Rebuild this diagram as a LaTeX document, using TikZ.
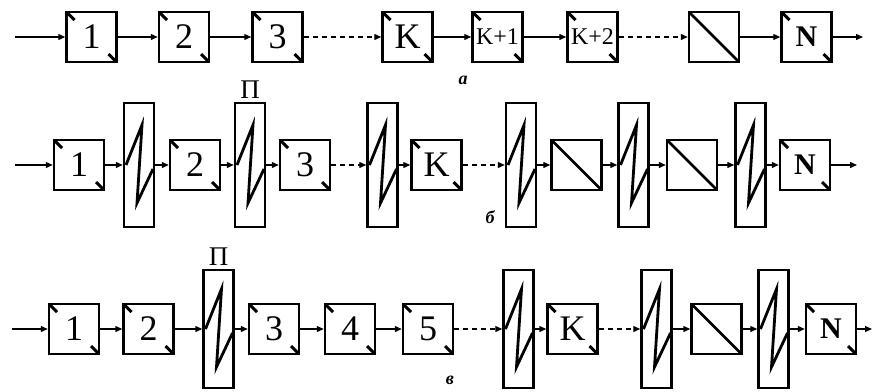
\documentclass[tikz,border=0pt]{standalone}
\usepackage{fontspec}
\setmainfont{Liberation Serif}
\usetikzlibrary{arrows.meta,positioning}

\begin{document}
\begin{tikzpicture}[x=1pt,y=-1pt,
    >={Triangle[length=7pt,width=6pt]},
    conn/.style={line width=1.3pt},
    gap/.style={conn,dash pattern=on 5pt off 4pt},
    blk/.style={draw,line width=2.5pt,minimum width=50pt,minimum height=50pt,
        inner sep=0pt,font=\fontsize{36}{36}\selectfont,
        path picture={
            \draw[line width=3pt] (path picture bounding box.north west) -- ++(8pt,-8pt);
            \draw[line width=3pt] (path picture bounding box.south east) -- ++(-8pt,8pt);
        }},
    diag/.style={draw,line width=2.5pt,minimum width=50pt,minimum height=50pt,
        inner sep=0pt,
        path picture={
            \draw[line width=2.5pt] (path picture bounding box.north west) -- (path picture bounding box.south east);
        }},
    filt/.style={draw,line width=2.5pt,minimum width=30pt,minimum height=#1,
        inner sep=0pt,
        path picture={
            \draw[line width=2.8pt]
                ([shift={(-13pt,0pt)}]path picture bounding box.center)
                -- ++(16pt,40pt) -- ++(-5pt,-78pt) -- ++(16pt,34pt);
        }},
    filt/.default=124pt,
    lbl/.style={font=\fontsize{18}{18}\selectfont\bfseries\itshape}
    ]

            \useasboundingbox (0,0) rectangle (872,391);

            % first chain: one after another
            \coordinate (ain) at (15,37);
            \node[blk] (a1) at (91.5,37) {1};
            \node[blk] (a2) at (184,37) {2};
            \node[blk] (a3) at (277.5,37) {3};
            \node[blk] (aK) at (407.5,37) {K};
            \node[blk,font=\fontsize{24}{24}\selectfont] (aK1) at (497.5,37) {K+1};
            \node[blk,font=\fontsize{24}{24}\selectfont] (aK2) at (592.5,37) {K+2};
            \node[diag] (aD) at (714,37) {};
            \node[blk,font=\fontsize{30}{30}\selectfont\bfseries] (aN) at (806.5,37) {N};
            \coordinate (aout) at (863,37);

            \draw[conn,->] (ain) -- (a1);
            \draw[conn,->] (a1) -- (a2);
            \draw[conn,->] (a2) -- (a3);
            \draw[gap,->] (a3) -- (aK);
            \draw[conn,->] (aK) -- (aK1);
            \draw[conn,->] (aK1) -- (aK2);
            \draw[gap,->] (aK2) -- (aD);
            \draw[conn,->] (aD) -- (aN);
            \draw[conn,->] (aN) -- (aout);

            \node[lbl] (la) at (463,80) {а};

            % second chain: a filter after every block
            \coordinate (bin) at (15,165);
            \node[blk] (b1) at (79,165) {1};
            \node[filt] (bf1) at (139,165) {};
            \node[blk] (b2) at (195,165) {2};
            \node[filt] (bf2) at (250,165) {};
            \node[blk] (b3) at (305,165) {3};
            \node[filt] (bf3) at (382.5,165) {};
            \node[blk] (bK) at (436.5,165) {K};
            \node[filt] (bf4) at (521,165) {};
            \node[diag] (bD1) at (576.5,165) {};
            \node[filt] (bf5) at (633.5,165) {};
            \node[diag] (bD2) at (692,165) {};
            \node[filt] (bf6) at (750.5,165) {};
            \node[blk,font=\fontsize{30}{30}\selectfont\bfseries] (bN) at (805,165) {N};
            \coordinate (bout) at (857,165);

            \draw[conn,->] (bin) -- (b1);
            \draw[conn,->] (b1) -- (bf1);
            \draw[conn,->] (bf1) -- (b2);
            \draw[conn,->] (b2) -- (bf2);
            \draw[conn,->] (bf2) -- (b3);
            \draw[gap,->] (b3) -- (bf3);
            \draw[conn,->] (bf3) -- (bK);
            \draw[gap,->] (bK) -- (bf4);
            \draw[conn,->] (bf4) -- (bD1);
            \draw[conn,->] (bD1) -- (bf5);
            \draw[conn,->] (bf5) -- (bD2);
            \draw[conn,->] (bD2) -- (bf6);
            \draw[conn,->] (bf6) -- (bN);
            \draw[conn,->] (bN) -- (bout);

            \node[font=\fontsize{27}{27}\selectfont,above=0pt of bf2] (bP) {П};
            \node[lbl] (lb) at (490,217) {б};

            % third chain: filters only in some places
            \coordinate (cin) at (12,329);
            \node[blk] (c1) at (74,329) {1};
            \node[blk] (c2) at (148.5,329) {2};
            \node[filt=118pt] (cf1) at (218.5,329) {};
            \node[blk] (c3) at (274,329) {3};
            \node[blk] (c4) at (350,329) {4};
            \node[blk] (c5) at (428,329) {5};
            \node[filt=118pt] (cf2) at (518.5,329) {};
            \node[blk] (cK) at (572.5,329) {K};
            \node[filt=118pt] (cf3) at (656.5,329) {};
            \node[diag] (cD) at (716.5,329) {};
            \node[filt=118pt] (cf4) at (773.5,329) {};
            \node[blk,font=\fontsize{30}{30}\selectfont\bfseries] (cN) at (831,329) {N};
            \coordinate (cout) at (872,329);

            \draw[conn,->] (cin) -- (c1);
            \draw[conn,->] (c1) -- (c2);
            \draw[conn,->] (c2) -- (cf1);
            \draw[conn,->] (cf1) -- (c3);
            \draw[conn,->] (c3) -- (c4);
            \draw[conn,->] (c4) -- (c5);
            \draw[gap,->] (c5) -- (cf2);
            \draw[conn,->] (cf2) -- (cK);
            \draw[gap,->] (cK) -- (cf3);
            \draw[conn,->] (cf3) -- (cD);
            \draw[conn,->] (cD) -- (cf4);
            \draw[conn,->] (cf4) -- (cN);
            \draw[conn,->] (cN) -- (cout);

            \node[font=\fontsize{27}{27}\selectfont,above=0pt of cf1] (cP) {П};
            \node[lbl] (lc) at (450,380) {в};

            \end{tikzpicture}
\end{document}
